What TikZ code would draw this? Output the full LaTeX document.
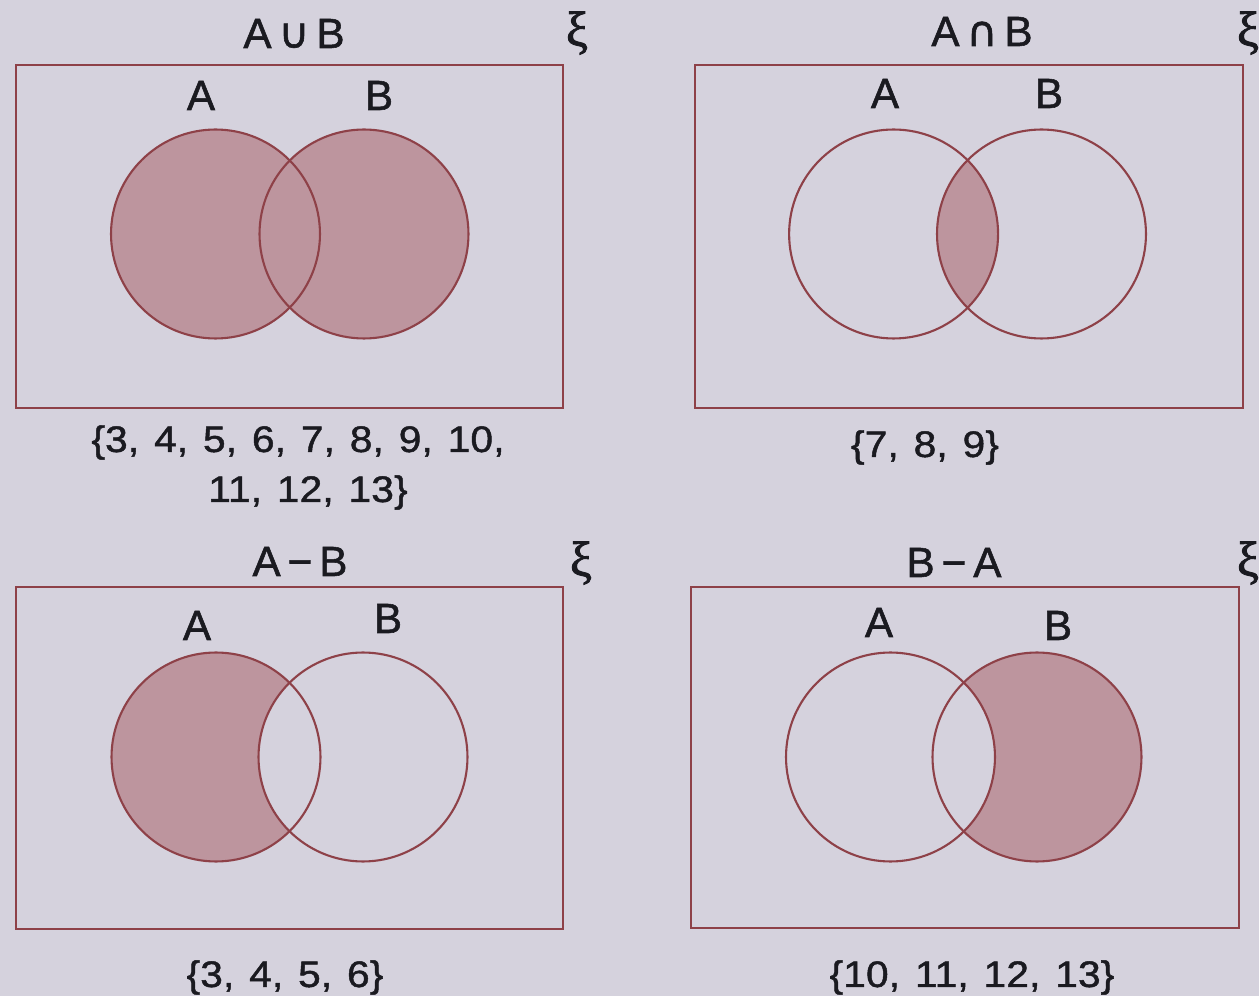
\documentclass[tikz,border=0pt]{standalone}
\usepackage{fontspec}
\setmainfont{Liberation Sans}[FakeBold=1.2]
\newfontfamily\labfont[FakeBold=1.3]{Liberation Sans}
\newfontfamily\numfont[FakeStretch=1.1,LetterSpace=0.5,WordSpace=1.3,FakeBold=1.3]{Liberation Sans}
\newfontfamily\symfont[FakeBold=1.3]{DejaVu Sans}
\newfontfamily\xifont[FakeBold=1.8]{Liberation Serif}
\definecolor{bgc}{HTML}{D5D2DD}
\definecolor{shadec}{HTML}{BD959E}
\definecolor{linec}{HTML}{8E4148}
\definecolor{inkc}{HTML}{1A1A20}
\tikzset{
  lab/.style={anchor=base,inner sep=0pt,text=inkc,font=\labfont\fontsize{24}{28}\selectfont},
  num/.style={anchor=base,inner sep=0pt,text=inkc,font=\numfont\fontsize{21}{24}\selectfont},
  xilab/.style={inner sep=0pt,text=inkc,font=\xifont\fontsize{28}{30}\selectfont},
  frame/.style={draw=linec,line width=1.2pt},
  ring/.style={draw=linec,line width=1.2pt},
  shaded/.style={fill=shadec},
  blank/.style={fill=bgc}
}
\def\R{2.09cm}
\begin{document}
\begin{tikzpicture}[x=0.02cm,y=-0.02cm]
\fill[bgc] (0,0) rectangle (1259,996);
\useasboundingbox (0,0) rectangle (1259,996);

% ---------- Panel 1: A union B ----------
\coordinate (a1) at (215.5,234);
\coordinate (b1) at (364,234);
\fill[shaded] (a1) circle[radius=\R];
\fill[shaded] (b1) circle[radius=\R];
\draw[ring] (a1) circle[radius=\R];
\draw[ring] (b1) circle[radius=\R];
\draw[frame] (16,65) rectangle (563,408);
\node[lab] (t1) at (294,48) {A\,{\symfont ∪}\,B};
\node[xilab] (x1) at (577,33) {ξ};
\node[lab] (la1) at (201,110) {A};
\node[lab] (lb1) at (379,110) {B};
\node[num] (n1a) at (298,452) {\{3, 4, 5, 6, 7, 8, 9, 10,};
\node[num] (n1b) at (308,502) {11, 12, 13\}};

% ---------- Panel 2: A intersect B ----------
\coordinate (a2) at (893.6,234);
\coordinate (b2) at (1041.5,234);
\begin{scope}
  \clip (a2) circle[radius=\R];
  \fill[shaded] (b2) circle[radius=\R];
\end{scope}
\draw[ring] (a2) circle[radius=\R];
\draw[ring] (b2) circle[radius=\R];
\draw[frame] (695,65) rectangle (1243,408);
\node[lab] (t2) at (982,46) {A\,{\symfont ∩}\,B};
\node[xilab] (x2) at (1248,33) {ξ};
\node[lab] (la2) at (885,108) {A};
\node[lab] (lb2) at (1049,108) {B};
\node[num] (n2) at (925,457) {\{7, 8, 9\}};

% ---------- Panel 3: A - B ----------
\coordinate (a3) at (216,757);
\coordinate (b3) at (363,757);
\fill[shaded] (a3) circle[radius=\R];
\fill[blank] (b3) circle[radius=\R];
\draw[ring] (a3) circle[radius=\R];
\draw[ring] (b3) circle[radius=\R];
\draw[frame] (16,587) rectangle (563,929);
\node[lab] (t3) at (300,576) {A\,−\,B};
\node[xilab] (x3) at (581,563) {ξ};
\node[lab] (la3) at (197,640) {A};
\node[lab] (lb3) at (388,633) {B};
\node[num] (n3) at (285,987) {\{3, 4, 5, 6\}};

% ---------- Panel 4: B - A ----------
\coordinate (a4) at (890.5,757);
\coordinate (b4) at (1037,757);
\fill[shaded] (b4) circle[radius=\R];
\fill[blank] (a4) circle[radius=\R];
\draw[ring] (a4) circle[radius=\R];
\draw[ring] (b4) circle[radius=\R];
\draw[frame] (691,587) rectangle (1239,928);
\node[lab] (t4) at (954,577) {B\,−\,A};
\node[xilab] (x4) at (1248,563) {ξ};
\node[lab] (la4) at (879,637) {A};
\node[lab] (lb4) at (1058,640) {B};
\node[num] (n4) at (972,987) {\{10, 11, 12, 13\}};
\end{tikzpicture}
\end{document}
